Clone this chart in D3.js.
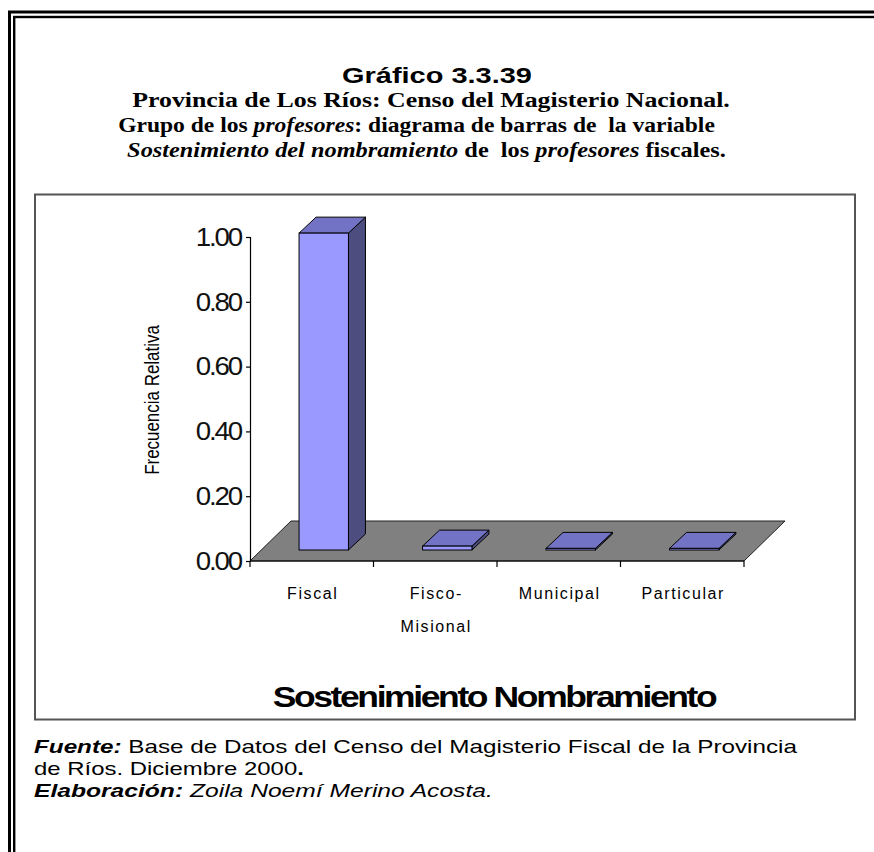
<!DOCTYPE html>
<html><head><meta charset="utf-8">
<script src="https://cdn.jsdelivr.net/npm/d3@7"></script>
<style>
html,body{margin:0;padding:0;background:#fff;overflow:hidden}
svg{display:block}
</style></head>
<body>
<script>
// ---- data ----
const categories = ["Fiscal", "Fisco-Misional", "Municipal", "Particular"];
const categoryLabelLines = [["Fiscal"], ["Fisco-", "Misional"], ["Municipal"], ["Particular"]];
const values = [0.978, 0.012, 0.005, 0.005];
const yTickValues = [0, 0.2, 0.4, 0.6, 0.8, 1.0];
const yTickLabels = ["0.00", "0.20", "0.40", "0.60", "0.80", "1.00"];
const titleMain = "Gráfico 3.3.39";
const yAxisTitle = "Frecuencia Relativa";
const xAxisTitle = "Sostenimiento Nombramiento";

const W = 874, H = 852;
const SANS = "'Liberation Sans', Arial, sans-serif";
const SERIF = "'Liberation Serif', 'Times New Roman', serif";

const svg = d3.select("body").append("svg").attr("width", W).attr("height", H);

// helper: place text group and scale horizontally to target width
function fitGroup(g, x, y, target) {
  const w = g.node().getBBox().width;
  const s = target && w ? target / w : 1;
  g.attr("transform", `translate(${x},${y}) scale(${s},1)`);
}

// ---- outer double frame ----
svg.append("rect").attr("x", 9.5).attr("y", 12).attr("width", W + 20).attr("height", H + 20)
  .attr("fill", "none").attr("stroke", "#000").attr("stroke-width", 3);
svg.append("rect").attr("x", 14.2).attr("y", 17).attr("width", W + 20).attr("height", H + 20)
  .attr("fill", "none").attr("stroke", "#000").attr("stroke-width", 2.4);

// ---- titles ----
{
  const g = svg.append("g");
  g.append("text").attr("text-anchor", "middle").attr("font-family", SANS).attr("font-weight", "bold")
    .attr("font-size", 23).text(titleMain);
  fitGroup(g, 437, 83, 190);
}
const subLines = [
  { y: 107, cx: 431, w: 598, parts: [["Provincia de Los Ríos: Censo del Magisterio Nacional.", false]] },
  { y: 132, cx: 416.5, w: 597, parts: [["Grupo de los ", false], ["profesores", true], [": diagrama de barras de  la variable", false]] },
  { y: 157, cx: 426.5, w: 599, parts: [["Sostenimiento del nombramiento", true], [" de  los ", false], ["profesores", true], [" fiscales.", false]] }
];
subLines.forEach(l => {
  const g = svg.append("g");
  const t = g.append("text").attr("text-anchor", "middle").attr("font-family", SERIF)
    .attr("font-weight", "bold").attr("font-size", 21.5).style("white-space", "pre");
  l.parts.forEach(p => t.append("tspan").attr("font-style", p[1] ? "italic" : "normal").text(p[0]));
  fitGroup(g, l.cx, l.y, l.w);
});

// ---- chart box ----
svg.append("rect").attr("x", 35).attr("y", 194.5).attr("width", 820).attr("height", 525)
  .attr("fill", "#fff").attr("stroke", "#555").attr("stroke-width", 2);

// ---- scales ----
const x = d3.scaleBand().domain(categories).range([250, 744]).paddingInner(0).paddingOuter(0);
const y = d3.scaleLinear().domain([0, 1]).range([561, 237]);
const floorD = [41, -40];      // floor depth offset
const barFront = [12, -11];    // bar front plane offset
const barD = [17, -16];        // bar depth
const barW = x.bandwidth() * 0.4;

// floor
const fx0 = x.range()[0], fx1 = x.range()[1], fy = y(0);
svg.append("polygon")
  .attr("points", [[fx0, fy], [fx1, fy], [fx1 + floorD[0], fy + floorD[1]], [fx0 + floorD[0], fy + floorD[1]]].map(p => p.join(",")).join(" "))
  .attr("fill", "#808080").attr("stroke", "#222").attr("stroke-width", 1);

// bars
const gb = svg.append("g");
categories.forEach((c, i) => {
  const v = values[i];
  const x0 = x(c) + x.bandwidth() / 2 - barW / 2 + barFront[0];
  const x1 = x0 + barW;
  const yt = y(v) + barFront[1];
  const yb = y(0) + barFront[1];
  const pts = a => a.map(p => p.join(",")).join(" ");
  gb.append("polygon").attr("points", pts([[x1, yt], [x1, yb], [x1 + barD[0], yb + barD[1]], [x1 + barD[0], yt + barD[1]]]))
    .attr("fill", "#4d4d80").attr("stroke", "#000").attr("stroke-width", 1).attr("stroke-linejoin", "round");
  gb.append("polygon").attr("points", pts([[x0, yt], [x1, yt], [x1 + barD[0], yt + barD[1]], [x0 + barD[0], yt + barD[1]]]))
    .attr("fill", "#7373c6").attr("stroke", "#000").attr("stroke-width", 1).attr("stroke-linejoin", "round");
  gb.append("rect").attr("x", x0).attr("y", yt).attr("width", barW).attr("height", yb - yt)
    .attr("fill", "#9999ff").attr("stroke", "#000").attr("stroke-width", 1);
});

// y axis
const yAxis = d3.axisLeft(y).tickValues(yTickValues).tickSize(4).tickFormat(() => "");
const gy = svg.append("g").attr("transform", `translate(${fx0},0)`).call(yAxis);
gy.select(".domain").attr("stroke", "#000").attr("stroke-width", 1.2);
gy.selectAll(".tick line").attr("stroke", "#000").attr("stroke-width", 1.2);
yTickValues.forEach((v, i) => {
  const g = svg.append("g");
  g.append("text").attr("text-anchor", "end").attr("dominant-baseline", "central")
    .attr("font-family", SANS).attr("font-size", 26).attr("fill", "#111").attr("letter-spacing", -2)
    .text(yTickLabels[i]);
  fitGroup(g, 241, y(v), 47);
});

// x axis
const xTicks = [fx0].concat(categories.map(c => x(c) + x.bandwidth()));
const gx = svg.append("g");
gx.append("line").attr("x1", fx0).attr("x2", fx1).attr("y1", fy).attr("y2", fy).attr("stroke", "#000").attr("stroke-width", 1.2);
xTicks.forEach(t => gx.append("line").attr("x1", t).attr("x2", t).attr("y1", fy).attr("y2", fy + 6).attr("stroke", "#000").attr("stroke-width", 1.2));
categories.forEach((c, i) => {
  categoryLabelLines[i].forEach((line, j) => {
    svg.append("text").attr("x", x(c) + x.bandwidth() / 2 + 1).attr("y", 599 + j * 33)
      .attr("text-anchor", "middle").attr("font-family", SANS).attr("font-size", 16)
      .attr("letter-spacing", 1.6).attr("fill", "#000").text(line);
  });
});

// axis titles
{
  const g = svg.append("g");
  g.append("text").attr("text-anchor", "middle").attr("font-family", SANS).attr("font-size", 21).text(yAxisTitle);
  const w = g.node().getBBox().width;
  g.attr("transform", `translate(159,400) rotate(-90) scale(${150 / w},1)`);
}
{
  const g = svg.append("g");
  g.append("text").attr("text-anchor", "middle").attr("font-family", SANS).attr("font-weight", "bold")
    .attr("font-size", 30).attr("letter-spacing", -2).text(xAxisTitle);
  fitGroup(g, 494, 707, 445);
}

// ---- footer ----
const footer = [
  { y: 753, w: 764, parts: [["Fuente:", "bold", "italic"], [" Base de Datos del Censo del Magisterio Fiscal de la Provincia", "normal", "normal"]] },
  { y: 775, w: 270, parts: [["de Ríos. Diciembre 2000", "normal", "normal"], [".", "bold", "normal"]] },
  { y: 797, w: 459, parts: [["Elaboración:", "bold", "italic"], [" Zoila Noemí Merino Acosta.", "normal", "italic"]] }
];
footer.forEach(l => {
  const g = svg.append("g");
  const t = g.append("text").attr("font-family", SANS).attr("font-size", 19).style("white-space", "pre");
  l.parts.forEach(p => t.append("tspan").attr("font-weight", p[1]).attr("font-style", p[2]).text(p[0]));
  fitGroup(g, 34, l.y, l.w);
});
</script>
</body></html>
